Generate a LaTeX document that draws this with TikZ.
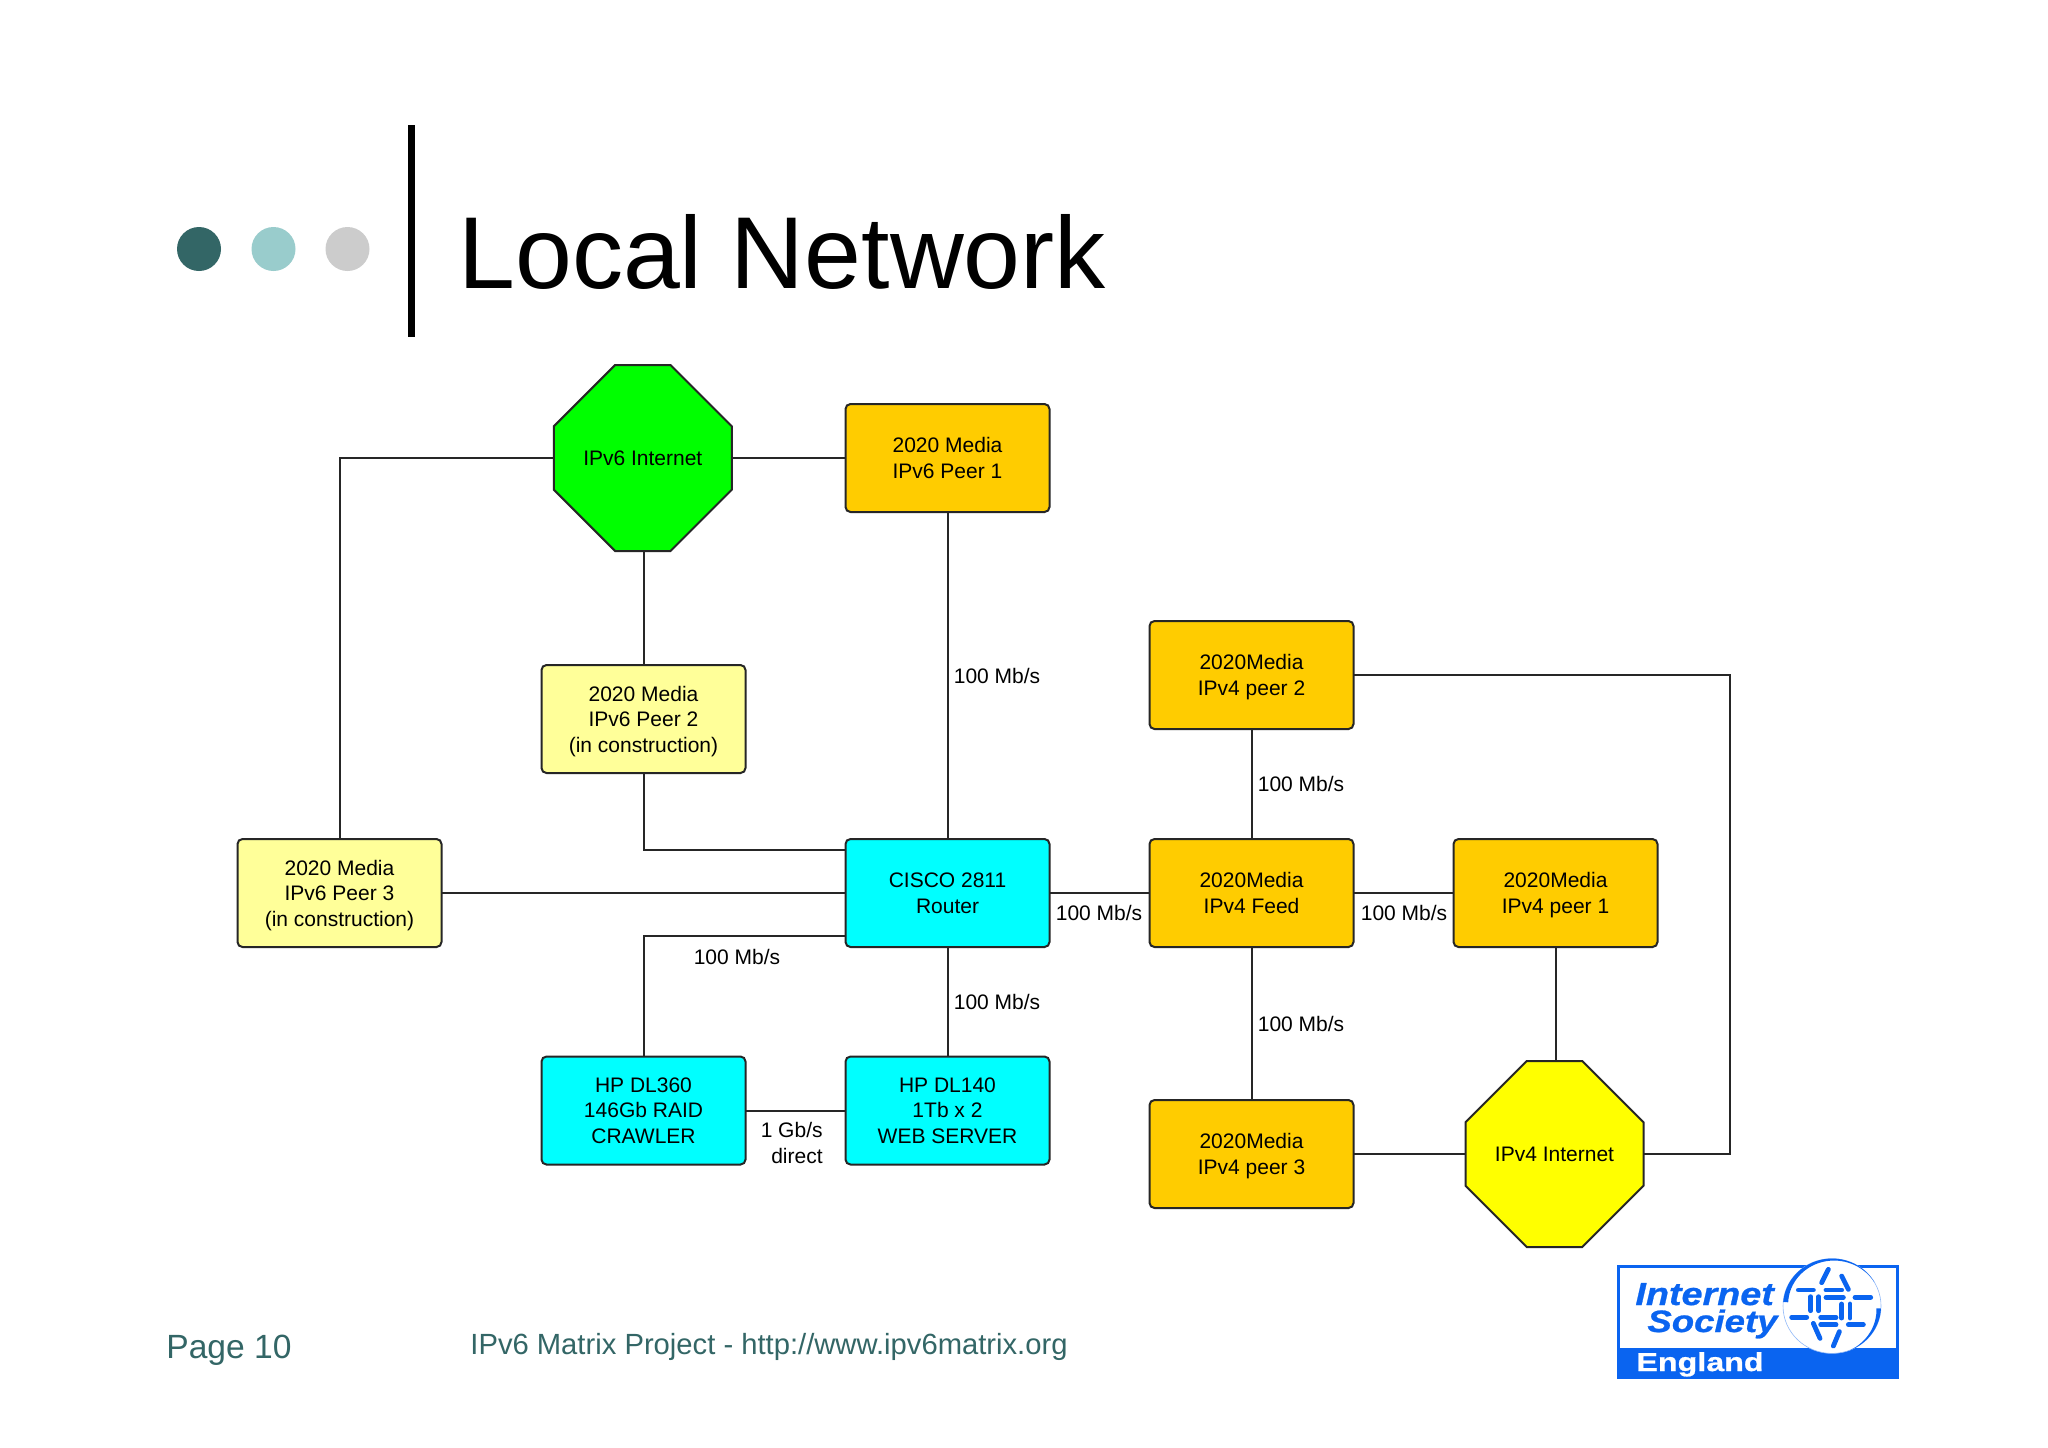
\documentclass[tikz,border=0pt]{standalone}
\usepackage{fontspec}
\setmainfont{Liberation Sans}
\newfontfamily\logofont[FakeStretch=1.18,FakeBold=0.8]{Liberation Sans}
\newfontfamily\logofontb[FakeStretch=1.24,FakeBold=0.8]{Liberation Sans}
\usetikzlibrary{shapes.misc}
\definecolor{teal}{HTML}{336666}
\definecolor{paleteal}{HTML}{99CCCC}
\definecolor{palegrey}{HTML}{CCCCCC}
\definecolor{gold}{HTML}{FFCC00}
\definecolor{paleyellow}{HTML}{FFFF99}
\definecolor{purecyan}{HTML}{00FFFF}
\definecolor{pureyellow}{HTML}{FFFF00}
\definecolor{puregreen}{HTML}{00FF00}
\definecolor{isoc}{HTML}{0A64F0}
\tikzset{
  boxbase/.style={draw=black!85,line width=1pt,rounded corners=2.5pt,minimum width=102pt,minimum height=54pt,
    inner sep=0pt,outer sep=0pt,align=center,text depth=0pt,font=\fontsize{10.5}{12.75}\selectfont},
  goldbox/.style={boxbase,fill=gold},
  palebox/.style={boxbase,fill=paleyellow},
  cyanbox/.style={boxbase,fill=purecyan},
  octa/.style={chamfered rectangle,draw=black!85,line width=1pt,chamfered rectangle xsep=25.5pt,chamfered rectangle ysep=27pt,
    minimum width=89pt,minimum height=93pt,inner sep=0pt,outer sep=0pt,align=center,text depth=0pt,font=\fontsize{10.5}{12.75}\selectfont},
  link/.style={draw=black!85,line width=1pt},
  rate/.style={inner sep=0pt,align=center,font=\fontsize{10.5}{12.75}\selectfont},
  footer/.style={inner sep=0pt,anchor=base west,text=teal},
  dash seg/.style={isoc,line width=2.4pt,line cap=round},
}
\begin{document}
\begin{tikzpicture}[x=0.5pt,y=-0.5pt]
\useasboundingbox (0,0) rectangle (2048,1447);
\fill[white] (0,0) rectangle (2048,1447);
% title block
\fill[teal] (199,249) circle[radius=11pt];
\fill[paleteal] (273.5,249) circle[radius=11pt];
\fill[palegrey] (347.5,249) circle[radius=11pt];
\fill[black] (408,125) rectangle (415,337);
\node[inner sep=0pt,anchor=base west,font=\fontsize{51.1}{60}\selectfont] (title) at (458,288) {Local Network};
% nodes
\node[octa,fill=puregreen] (v6i) at (642.8,458) {IPv6 Internet};
\node[goldbox] (p1) at (947.5,458) {2020 Media\\IPv6 Peer 1};
\node[palebox] (p2) at (643.5,719) {2020 Media\\IPv6 Peer 2\\(in construction)};
\node[palebox] (p3) at (339.5,893) {2020 Media\\IPv6 Peer 3\\(in construction)};
\node[cyanbox] (router) at (947.5,893) {CISCO 2811\\Router};
\node[cyanbox] (dl360) at (643.5,1110.5) {HP DL360\\146Gb RAID\\CRAWLER};
\node[cyanbox] (dl140) at (947.5,1110.5) {HP DL140\\1Tb x 2\\WEB SERVER};
\node[goldbox] (v4p2) at (1251.5,675) {2020Media\\IPv4 peer 2};
\node[goldbox] (feed) at (1251.5,893) {2020Media\\IPv4 Feed};
\node[goldbox] (v4p1) at (1555.5,893) {2020Media\\IPv4 peer 1};
\node[goldbox] (v4p3) at (1251.5,1154) {2020Media\\IPv4 peer 3};
\node[octa,fill=pureyellow] (v4i) at (1554.5,1154) {IPv4 Internet};
\coordinate (loop) at (1730,675);
% connectors
\draw[link] (p3.north) |- (v6i.west);
\draw[link] (v6i.east) -- (p1.west);
\draw[link] (p2.north) -- (p2.north |- v6i.south);
\draw[link] (p1.south) -- (router.north);
\draw[link] (p2.south) |- ([yshift=21.5pt]router.west);
\draw[link] (p3.east) -- (router.west);
\draw[link] (dl360.north) |- ([yshift=-21.5pt]router.west);
\draw[link] (router.south) -- (dl140.north);
\draw[link] (dl360.east) -- (dl140.west);
\draw[link] (router.east) -- (feed.west);
\draw[link] (feed.east) -- (v4p1.west);
\draw[link] (feed.north) -- (v4p2.south);
\draw[link] (feed.south) -- (v4p3.north);
\draw[link] (v4p1.south) -- (v4p1.south |- v4i.north);
\draw[link] (v4p3.east) -- (v4i.west);
\draw[link] (v4p2.east) -- (loop) |- (v4i.east);
% rates
\node[rate] (r1) at (997,676) {100 Mb/s};
\node[rate] (r2) at (1301,784) {100 Mb/s};
\node[rate] (r3) at (1099,913) {100 Mb/s};
\node[rate] (r4) at (1404,913) {100 Mb/s};
\node[rate] (r5) at (737,957) {100 Mb/s};
\node[rate] (r6) at (997,1002) {100 Mb/s};
\node[rate] (r7) at (1301,1024) {100 Mb/s};
\node[rate,align=right,anchor=east] (r8) at (823,1143) {1 Gb/s\\direct};
% footer
\node[footer,font=\fontsize{16.8}{20}\selectfont] (page) at (166,1358) {Page 10};
\node[footer,font=\fontsize{14.6}{18}\selectfont] (proj) at (470,1354) {IPv6 Matrix Project - http://www.ipv6matrix.org};
% logo
\fill[isoc] (1617,1265) rectangle (1899,1379);
\fill[white] (1620,1268) rectangle (1896,1348);
\fill[white] (1832,1306) ellipse[x radius=24.5pt,y radius=23.7pt];
\draw[isoc!45,line width=0.3pt] (1832,1306) ellipse[x radius=24.5pt,y radius=23.7pt];
\fill[isoc] plot[variable=\t,domain=175:30,samples=40] ({1832+49*cos(\t)},{1306-47.5*sin(\t)})
   -- plot[variable=\t,domain=30:175,samples=40] ({1832+(49-5*(\t-30)/145)*cos(\t)},{1306-(47.5-5*(\t-30)/145)*sin(\t)}) -- cycle;
\fill[isoc] plot[variable=\t,domain=-3:-68,samples=30] ({1832+49*cos(\t)},{1306-47.5*sin(\t)})
   -- plot[variable=\t,domain=-68:-3,samples=30] ({1832+(49-4.5*(\t+68)/65)*cos(\t)},{1306-(47.5-4.5*(\t+68)/65)*sin(\t)}) -- cycle;
\foreach \ax/\ay/\bx/\by in {655/150/700/150,738/150/785/150,738/172/790/172,825/172/872/172,
   635/232/680/232,722/232/768/232,722/254/768/254,805/254/850/254,
   692/170/692/212,716/170/716/212,785/192/785/234,810/192/810/234,
   745/88/725/128,785/108/805/148,700/250/720/295,778/275/760/318}
  \draw[dash seg] ({1580+\ax/3},{1240+\ay/3}) -- ({1580+\bx/3},{1240+\by/3});
\node[inner sep=0pt,anchor=base west,text=isoc,font=\logofont\fontsize{16}{18}\selectfont\bfseries\itshape] (li) at (1635,1305) {Internet};
\node[inner sep=0pt,anchor=base west,text=isoc,font=\logofont\fontsize{15.5}{18}\selectfont\bfseries\itshape] (ls) at (1647,1332) {Society};
\node[inner sep=0pt,anchor=base west,text=white,font=\logofontb\fontsize{13}{15}\selectfont\bfseries] (le) at (1636,1371) {England};
\end{tikzpicture}
\end{document}
